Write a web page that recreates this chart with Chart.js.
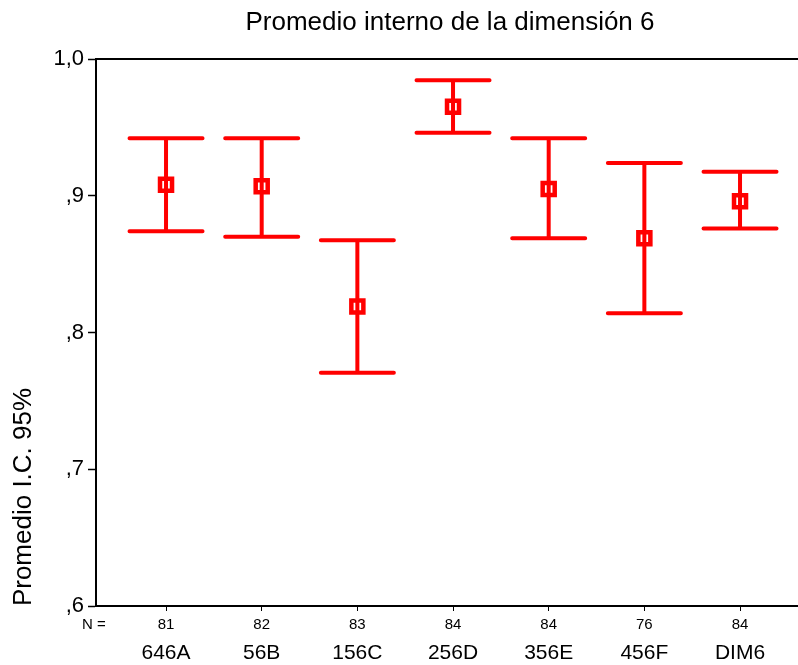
<!DOCTYPE html>
<html>
<head>
<meta charset="utf-8">
<script src="https://cdn.jsdelivr.net/npm/chart.js@4/dist/chart.umd.min.js"></script>
<style>
  html, body { margin: 0; padding: 0; background: #fff; }
  #wrap { width: 798px; height: 665px; }
</style>
</head>
<body>
<div id="wrap"><canvas id="c" width="798" height="665"></canvas></div>
<script>
// Groups along the horizontal axis
const categories = ['646A', '56B', '156C', '256D', '356E', '456F', 'DIM6'];
// Sample sizes per group
const nValues = [81, 82, 83, 84, 84, 76, 84];
// Group means and 95% confidence limits
const means = [0.908, 0.907, 0.819, 0.965, 0.905, 0.869, 0.896];
const lowerCI = [0.874, 0.870, 0.7705, 0.946, 0.869, 0.814, 0.876];
const upperCI = [0.942, 0.942, 0.8675, 0.9845, 0.942, 0.924, 0.9175];
// Vertical axis ticks
const yTicks = [0.6, 0.7, 0.8, 0.9, 1.0];

const RED = '#ff0000';
const FONT = "'Liberation Sans', Arial, Helvetica, sans-serif";

// Confidence-interval whiskers, drawn on top of the mean markers
const errorBars = {
  id: 'errorBars',
  afterDatasetsDraw(chart) {
    const { ctx, scales: { x, y } } = chart;
    ctx.save();
    ctx.strokeStyle = RED;
    ctx.lineWidth = 4;
    ctx.lineCap = 'round';
    const half = 36.5;
    categories.forEach((_, i) => {
      const px = x.getPixelForValue(i);
      const yl = y.getPixelForValue(lowerCI[i]);
      const yu = y.getPixelForValue(upperCI[i]);
      ctx.beginPath();
      ctx.moveTo(px, yu); ctx.lineTo(px, yl);
      ctx.moveTo(px - half, yu); ctx.lineTo(px + half, yu);
      ctx.moveTo(px - half, yl); ctx.lineTo(px + half, yl);
      ctx.stroke();
    });
    ctx.restore();
  }
};

// Title, frame top line, axis title and the N row
const decorations = {
  id: 'decorations',
  afterDraw(chart) {
    const { ctx, chartArea: a, scales: { x } } = chart;
    ctx.save();
    // top frame line
    ctx.strokeStyle = '#000';
    ctx.lineWidth = 2;
    ctx.beginPath();
    ctx.moveTo(a.left - 1, a.top);
    ctx.lineTo(chart.width, a.top);
    ctx.stroke();

    ctx.fillStyle = '#000';
    ctx.textBaseline = 'middle';
    // chart title
    ctx.font = '26px ' + FONT;
    ctx.textAlign = 'center';
    ctx.fillText('Promedio interno de la dimensión 6', 450, 23);

    // vertical axis title
    ctx.save();
    ctx.translate(24, 497);
    ctx.rotate(-Math.PI / 2);
    ctx.font = '26px ' + FONT;
    ctx.fillText('Promedio I.C. 95%', 0, 0);
    ctx.restore();

    // N row
    ctx.font = '15px ' + FONT;
    ctx.textAlign = 'center';
    ctx.fillText('N =', 94, 625);
    nValues.forEach((n, i) => {
      ctx.fillText(String(n), x.getPixelForValue(i), 625);
    });
    ctx.restore();
  }
};

new Chart(document.getElementById('c'), {
  type: 'scatter',
  data: {
    datasets: [{
      data: means.map((m, i) => ({ x: i, y: m })),
      pointStyle: 'rect',
      pointRadius: 8.5,
      pointHoverRadius: 8.5,
      pointBorderWidth: 4.5,
      pointBorderColor: RED,
      pointBackgroundColor: '#ffffff'
    }]
  },
  options: {
    responsive: false,
    animation: false,
    devicePixelRatio: 1,
    layout: { autoPadding: false, padding: { top: 59, left: 0, right: 0, bottom: 0 } },
    plugins: {
      legend: { display: false },
      tooltip: { enabled: false },
      title: { display: false }
    },
    scales: {
      x: {
        type: 'linear',
        min: -0.732,
        max: 6.606,
        afterBuildTicks: s => { s.ticks = categories.map((_, i) => ({ value: i })); },
        afterFit: s => { s.height = 59; s.paddingLeft = 0; s.paddingRight = 0; },
        grid: { drawOnChartArea: false, drawTicks: true, tickLength: 5, tickColor: '#000', tickWidth: 1 },
        border: { display: true, color: '#000', width: 2 },
        ticks: {
          autoSkip: false,
          maxRotation: 0,
          padding: 30,
          color: '#000',
          font: { family: FONT, size: 21 },
          callback: v => categories[v] ?? ''
        }
      },
      y: {
        min: 0.6,
        max: 1.0,
        afterBuildTicks: s => { s.ticks = yTicks.map(v => ({ value: v })); },
        afterFit: s => { s.width = 96; s.paddingTop = 0; s.paddingBottom = 0; },
        grid: { drawOnChartArea: false, drawTicks: true, tickLength: 8, tickColor: '#000', tickWidth: 1.5 },
        border: { display: true, color: '#000', width: 2 },
        ticks: {
          padding: 4,
          color: '#000',
          font: { family: FONT, size: 22 },
          callback: v => v.toFixed(1).replace('.', ',').replace(/^0/, '')
        }
      }
    }
  },
  plugins: [errorBars, decorations]
});
</script>
</body>
</html>
